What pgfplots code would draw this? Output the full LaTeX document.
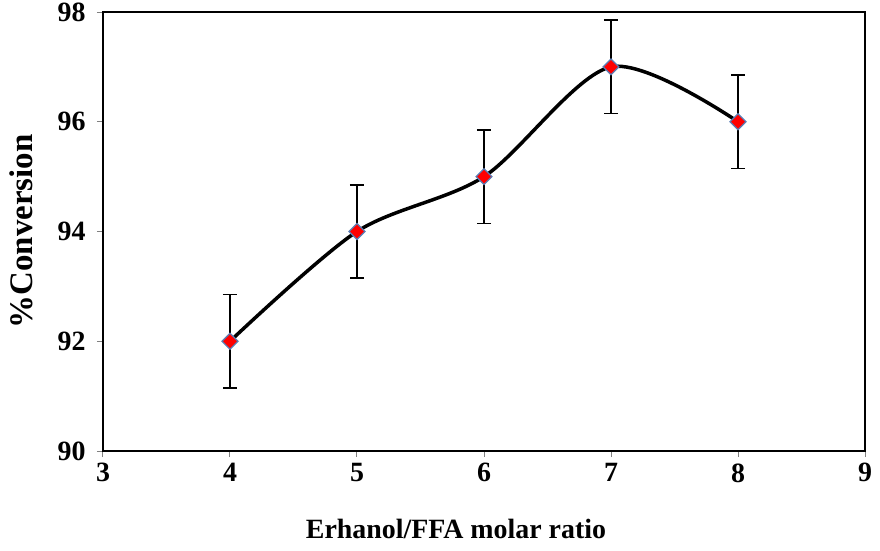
\documentclass[border=0pt]{standalone}
\usepackage{pgfplots}
\pgfplotsset{compat=1.18}
\usepackage{fontspec}
\setmainfont{Liberation Serif}
\definecolor{mkedge}{RGB}{90,125,180}
\definecolor{tickgrey}{RGB}{128,128,128}
\begin{document}
\begin{tikzpicture}
\path[use as bounding box] (-103bp,-100bp) rectangle (777bp,451bp);
\begin{axis}[
  at={(0,0)}, anchor=south west,
  scale only axis,
  width=762bp, height=439bp,
  xmin=3, xmax=9, ymin=90, ymax=98,
  xtick={3,4,...,9}, ytick={90,92,...,98},
  axis line style={black, line width=2bp},
  tick style={tickgrey, line width=1bp},
  tick align=outside, major tick length=6bp,
  xtick pos=bottom, ytick pos=left,
  tick label style={font=\fontsize{28}{30}\selectfont\bfseries},
  /pgf/number format/assume math mode=true,
  xticklabel style={yshift=-3bp},
  yticklabel style={xshift=-8bp},
  xlabel={Erhanol/FFA molar ratio},
  ylabel={\%Conversion},
  xlabel style={font=\fontsize{28}{32}\selectfont\bfseries, yshift=-30bp, xshift=-28bp},
  ylabel style={font=\fontsize{33}{36}\selectfont\bfseries, yshift=18bp},
]
\addplot[black, line width=3.5bp, smooth, tension=0.5,
  error bars/.cd, y dir=both, y explicit,
  error bar style={black, line width=1.5bp},
  error mark options={black, line width=1.5bp, mark size=7bp, rotate=90}]
  coordinates {
  (4,92) +- (0,0.85)
  (5,94) +- (0,0.85)
  (6,95) +- (0,0.85)
  (7,97) +- (0,0.85)
  (8,96) +- (0,0.85)
};
\addplot[only marks, mark=square*, mark size=5.6bp,
  mark options={rotate=45, fill=red, draw=mkedge, line width=1.2bp}]
  coordinates {(4,92) (5,94) (6,95) (7,97) (8,96)};
\end{axis}
\end{tikzpicture}
\end{document}
